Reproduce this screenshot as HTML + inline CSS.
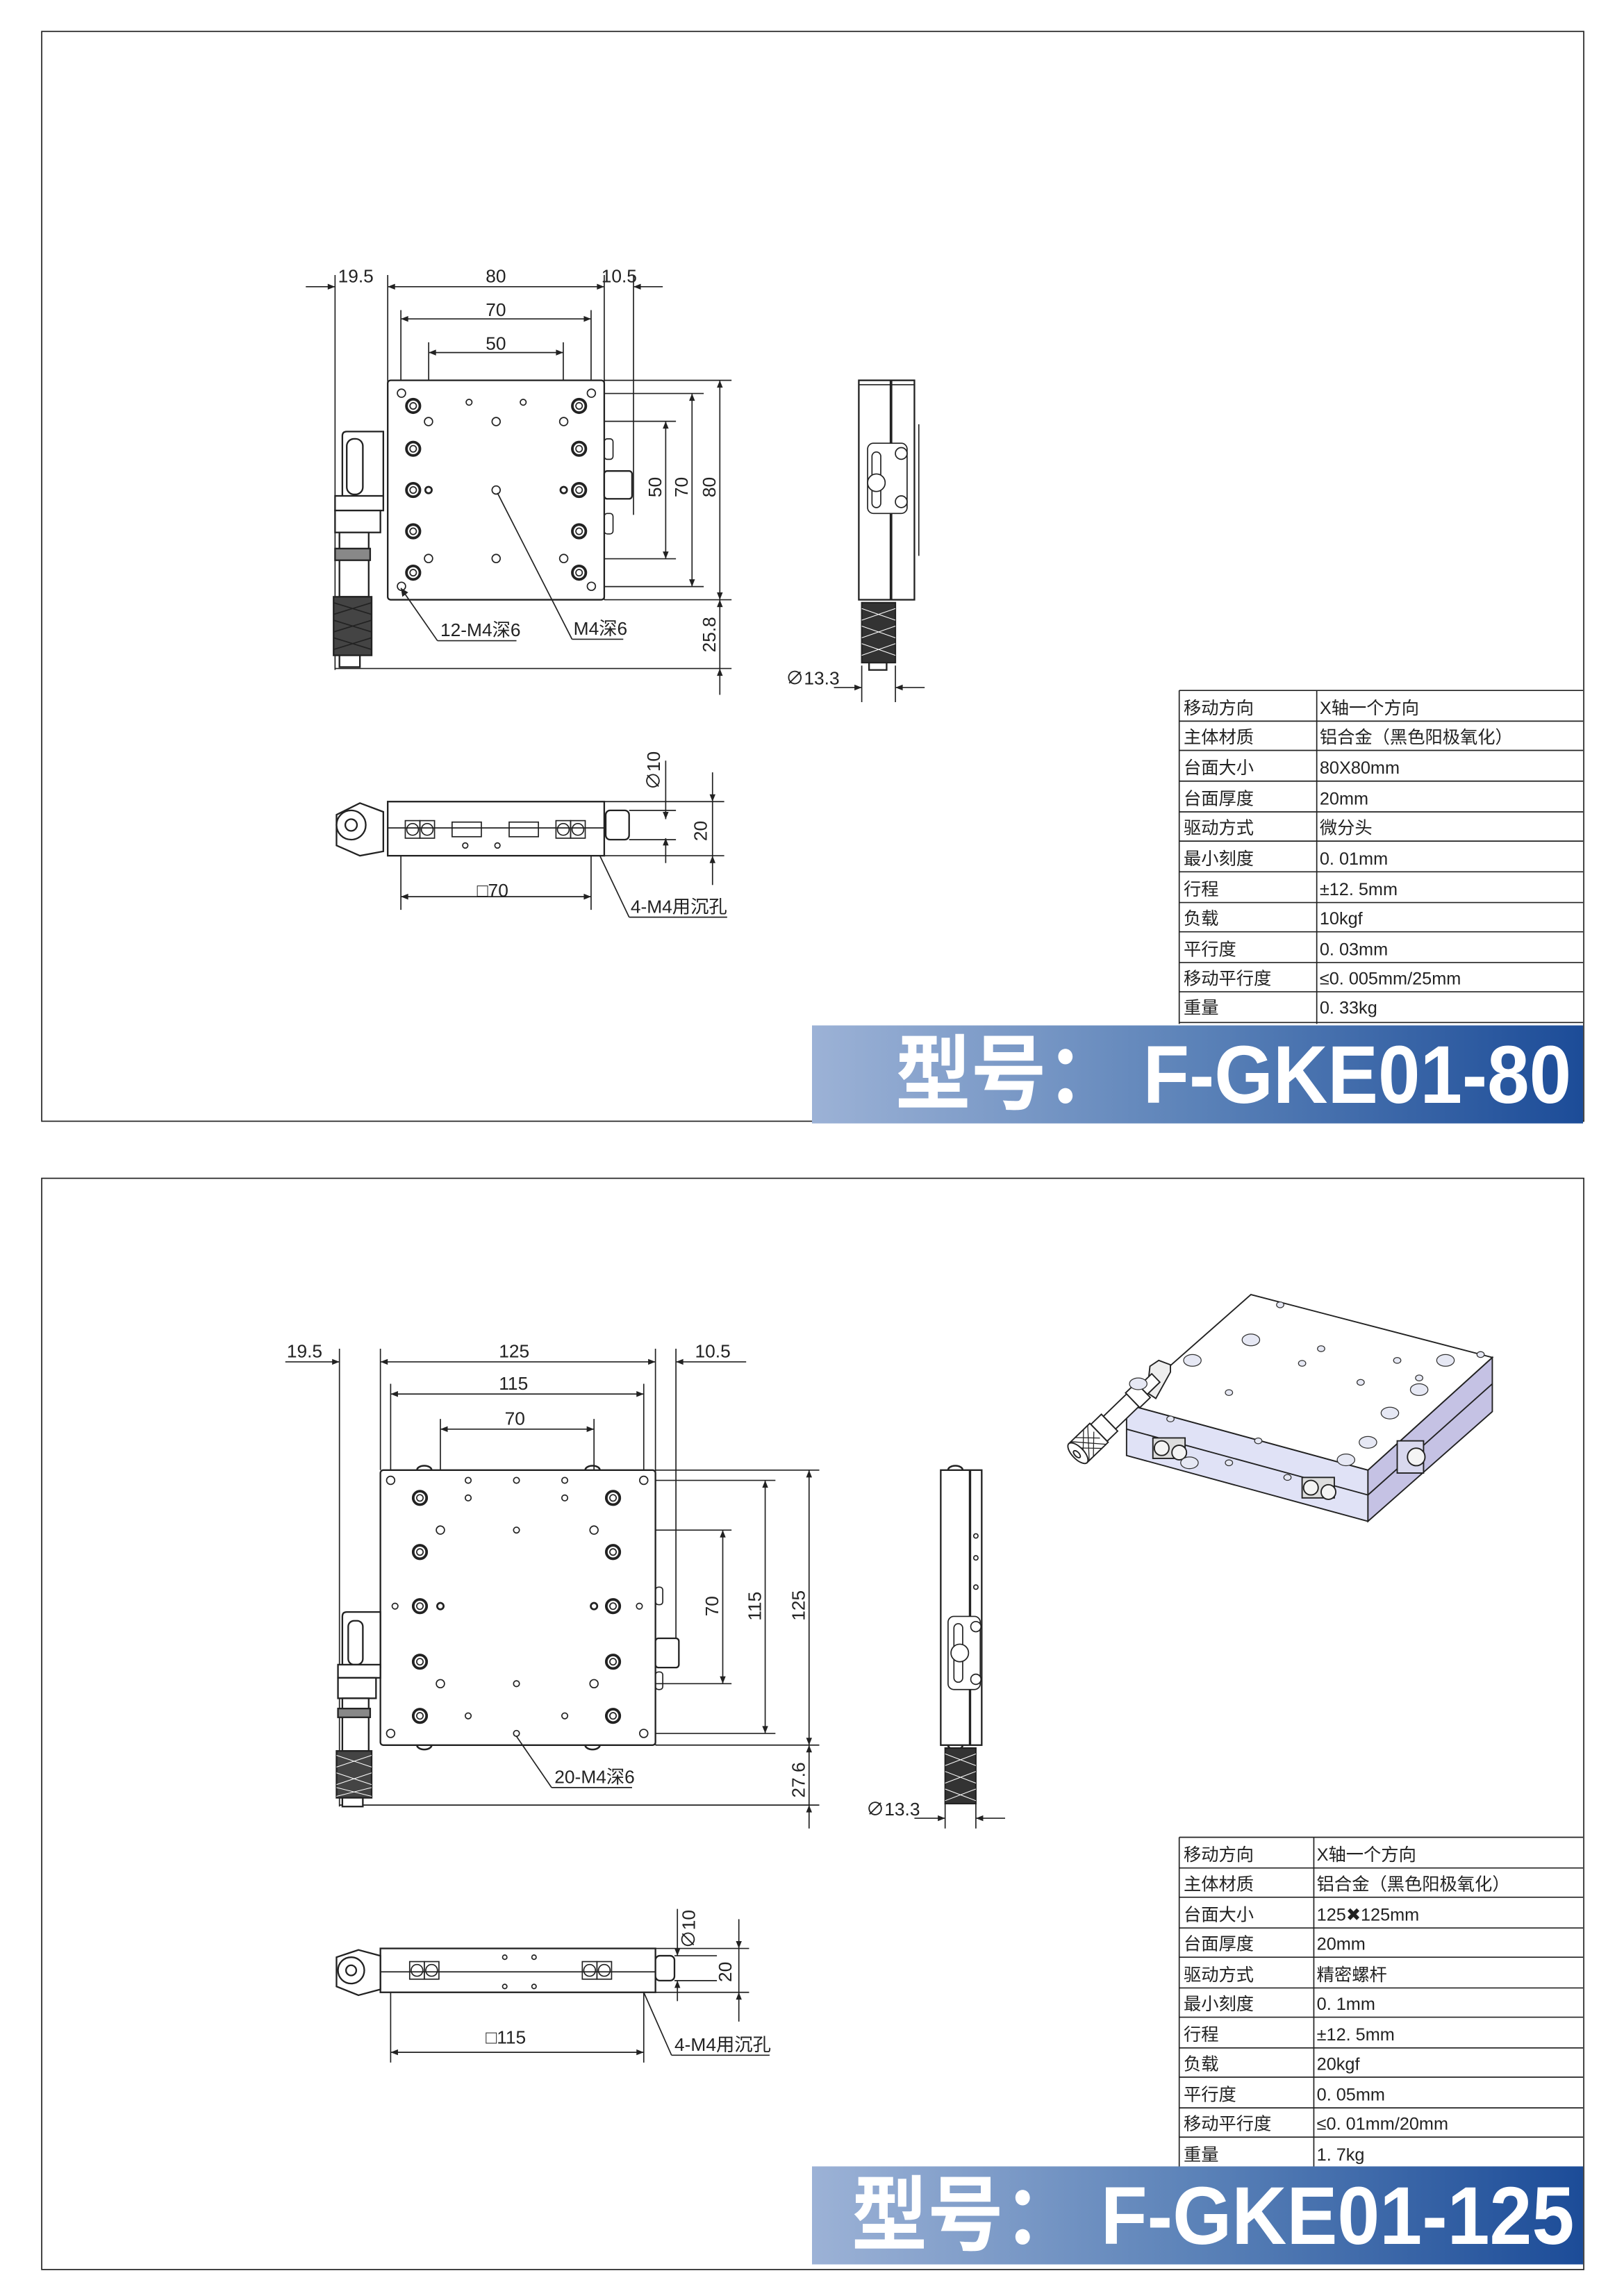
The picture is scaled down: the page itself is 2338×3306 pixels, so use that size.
<!DOCTYPE html>
<html><head><meta charset="utf-8">
<style>
html,body{margin:0;padding:0;background:#fff;}
svg{display:block;}
text{font-family:"Liberation Sans","Noto Sans CJK SC",sans-serif;fill:#222;}
.d{font-size:12.5px;}
.t{font-size:12px;}
.ln{stroke:#222;stroke-width:0.8;fill:none;}
.th{stroke:#222;stroke-width:1.3;fill:none;}
.pl{stroke:#222;stroke-width:1.1;fill:#fff;}
.big{font-family:"Liberation Sans","Noto Sans CJK SC",sans-serif;font-weight:bold;font-size:56px;fill:#fff;}
</style></head><body>
<svg width="2338" height="3306" viewBox="0 0 1110 1569.6" xmlns="http://www.w3.org/2000/svg">
<defs>
<marker id="a" viewBox="0 0 10 10" refX="10" refY="5" markerWidth="9" markerHeight="5" orient="auto-start-reverse" markerUnits="userSpaceOnUse"><path d="M0,1 L10,5 L0,9 z" fill="#222"/></marker>
<linearGradient id="g" x1="0" y1="0" x2="1" y2="0"><stop offset="0" stop-color="#9cb2d6"/><stop offset="0.5" stop-color="#5b82b8"/><stop offset="1" stop-color="#1c4c98"/></linearGradient>
<g id="cb"><circle r="4.6" fill="#fff" stroke="#222" stroke-width="1.8"/><circle r="2.2" fill="none" stroke="#222" stroke-width="0.8"/></g>
<g id="sh"><circle r="2.8" fill="#fff" stroke="#222" stroke-width="0.8"/></g>
</defs>
<rect width="1110" height="1569.6" fill="#fff"/>
<rect x="28.5" y="21.5" width="1054" height="745" class="ln" stroke-width="1"/>
<rect x="28.5" y="805.5" width="1054" height="746" class="ln" stroke-width="1"/>

<!-- ================= TOP PANEL ================= -->
<g class="ln">
<line x1="229" y1="188" x2="229" y2="458"/>
<line x1="265" y1="188" x2="265" y2="262"/>
<line x1="413" y1="188" x2="413" y2="410"/>
<line x1="433" y1="188" x2="433" y2="352"/>
<line x1="209" y1="196" x2="229" y2="196" marker-end="url(#a)"/>
<line x1="265" y1="196" x2="413" y2="196" marker-start="url(#a)" marker-end="url(#a)"/>
<line x1="433" y1="196" x2="453" y2="196" marker-start="url(#a)"/>
<line x1="274" y1="212" x2="274" y2="268"/><line x1="404" y1="212" x2="404" y2="268"/>
<line x1="274" y1="218" x2="404" y2="218" marker-start="url(#a)" marker-end="url(#a)"/>
<line x1="293" y1="234" x2="293" y2="288"/><line x1="385" y1="234" x2="385" y2="288"/>
<line x1="293" y1="241" x2="385" y2="241" marker-start="url(#a)" marker-end="url(#a)"/>
<line x1="413" y1="260" x2="500" y2="260"/>
<line x1="404" y1="269" x2="481" y2="269"/>
<line x1="385" y1="288" x2="462" y2="288"/>
<line x1="385" y1="382" x2="462" y2="382"/>
<line x1="404" y1="401" x2="481" y2="401"/>
<line x1="413" y1="410" x2="500" y2="410"/>
<line x1="229" y1="457" x2="500" y2="457"/>
<line x1="455" y1="288" x2="455" y2="382" marker-start="url(#a)" marker-end="url(#a)"/>
<line x1="473" y1="269" x2="473" y2="401" marker-start="url(#a)" marker-end="url(#a)"/>
<line x1="492" y1="260" x2="492" y2="410" marker-start="url(#a)" marker-end="url(#a)"/>
<line x1="492" y1="410" x2="492" y2="457" marker-start="url(#a)"/>
<line x1="492" y1="475" x2="492" y2="457" marker-end="url(#a)"/>
</g>
<text class="d" x="231" y="193">19.5</text>
<text class="d" x="332" y="193">80</text>
<text class="d" x="411" y="193">10.5</text>
<text class="d" x="332" y="216">70</text>
<text class="d" x="332" y="239">50</text>
<text class="d" transform="translate(452,340) rotate(-90)">50</text>
<text class="d" transform="translate(470,340) rotate(-90)">70</text>
<text class="d" transform="translate(489,340) rotate(-90)">80</text>
<text class="d" transform="translate(489,446) rotate(-90)">25.8</text>

<rect x="265" y="260" width="148" height="150" rx="2" class="pl"/>
<use href="#sh" x="274.4" y="268.8"/><use href="#sh" x="404.2" y="268.8"/>
<use href="#sh" x="274.4" y="400.8"/><use href="#sh" x="404.2" y="400.8"/>
<use href="#sh" x="292.9" y="288.2"/><use href="#sh" x="385.3" y="288.2"/>
<use href="#sh" x="292.9" y="381.8"/><use href="#sh" x="385.3" y="381.8"/>
<use href="#sh" x="339.1" y="288.2"/><use href="#sh" x="339.1" y="335"/><use href="#sh" x="339.1" y="381.8"/>
<circle cx="320.6" cy="275" r="2" class="ln" fill="#fff"/><circle cx="357.6" cy="275" r="2" class="ln" fill="#fff"/>
<circle cx="292.9" cy="335" r="2.2" class="th"/><circle cx="385.3" cy="335" r="2.2" class="th"/>
<use href="#cb" x="282.4" y="277.5"/><use href="#cb" x="282.4" y="306.8"/><use href="#cb" x="282.4" y="335"/><use href="#cb" x="282.4" y="363.2"/><use href="#cb" x="282.4" y="391.5"/>
<use href="#cb" x="395.8" y="277.5"/><use href="#cb" x="395.8" y="306.8"/><use href="#cb" x="395.8" y="335"/><use href="#cb" x="395.8" y="363.2"/><use href="#cb" x="395.8" y="391.5"/>
<rect x="413" y="300" width="6" height="14" rx="2" class="ln" fill="#fff"/>
<rect x="413" y="322" width="19" height="19" rx="2" class="pl"/>
<rect x="413" y="351" width="6" height="14" rx="2" class="ln" fill="#fff"/>
<g class="pl">
<path d="M262,295 L237,295 Q234,295 234,298 L234,340 L262,340 Z"/>
<rect x="237" y="300" width="11" height="38" rx="5"/>
<rect x="229" y="339" width="33" height="10"/>
<rect x="229" y="349" width="31" height="15"/>
<rect x="232" y="364" width="20" height="44"/>
<rect x="229" y="375" width="24" height="8" fill="#888"/>
<rect x="228" y="408" width="26" height="40" fill="#444"/>
<rect x="232" y="448" width="14" height="8"/>
</g>
<g class="ln" stroke="#fff" stroke-width="0.6">
<path d="M228,412 L254,420 M228,420 L254,412 M228,424 L254,432 M228,432 L254,424 M228,436 L254,444 M228,444 L254,436"/>
</g>
<g class="ln">
<line x1="274" y1="402" x2="299" y2="438"/><line x1="299" y1="438" x2="353" y2="438"/>
<line x1="340" y1="337" x2="391" y2="437"/><line x1="391" y1="437" x2="426" y2="437"/>
</g>
<path d="M274,402 l1,6 l4,-3 z" fill="#222"/>
<text class="d" x="301" y="435">12-M4深6</text>
<text class="d" x="392" y="434">M4深6</text>

<rect x="587" y="260" width="38" height="150" class="pl"/>
<g class="ln">
<line x1="587" y1="263" x2="625" y2="263"/>
<line x1="609" y1="260" x2="609" y2="410" stroke-width="1.8"/>
<line x1="628" y1="290" x2="628" y2="380"/>
<rect x="593" y="303" width="27" height="48" rx="4" fill="#fff"/>
<rect x="596" y="309" width="6" height="38" rx="3"/>
<circle cx="599" cy="330" r="6" fill="#fff"/>
<circle cx="616" cy="310" r="4" fill="#fff"/><circle cx="616" cy="343" r="4" fill="#fff"/>
</g>
<rect x="589" y="412" width="23" height="41" fill="#333" stroke="#222"/>
<path d="M589,416 L612,424 M589,424 L612,416 M589,428 L612,436 M589,436 L612,428 M589,440 L612,448 M589,448 L612,440" stroke="#fff" stroke-width="0.5"/>
<rect x="594" y="453" width="12" height="5" class="pl"/>
<g class="ln">
<line x1="589" y1="455" x2="589" y2="480"/><line x1="612" y1="455" x2="612" y2="480"/>
<line x1="570" y1="470" x2="589" y2="470" marker-end="url(#a)"/>
<line x1="632" y1="470" x2="612" y2="470" marker-end="url(#a)"/>
</g>
<text class="d" x="537" y="468">∅13.3</text>

<g class="pl">
<rect x="265" y="548" width="148" height="37"/>
<path d="M230,557 L246,549 L262,555 L262,582 L246,585 L230,578 Z"/>
<circle cx="240" cy="564" r="10"/><circle cx="240" cy="564" r="4"/>
<rect x="414" y="554" width="16" height="20" rx="3"/>
</g>
<g class="ln">
<line x1="265" y1="566" x2="413" y2="566"/>
<rect x="277" y="561" width="10" height="12"/><rect x="287" y="561" width="10" height="12"/>
<rect x="380" y="561" width="10" height="12"/><rect x="390" y="561" width="10" height="12"/>
<circle cx="282" cy="567" r="4"/><circle cx="292" cy="567" r="4"/><circle cx="385" cy="567" r="4"/><circle cx="395" cy="567" r="4"/>
<rect x="309" y="562" width="20" height="10"/><rect x="348" y="562" width="20" height="10"/>
<circle cx="318" cy="578" r="1.8"/><circle cx="340" cy="578" r="1.8"/>
<line x1="274" y1="585" x2="274" y2="622"/><line x1="404" y1="585" x2="404" y2="622"/>
<line x1="274" y1="613" x2="404" y2="613" marker-start="url(#a)" marker-end="url(#a)"/>
<line x1="410" y1="585" x2="430" y2="627"/><line x1="430" y1="627" x2="497" y2="627"/>
<line x1="455" y1="520" x2="455" y2="560" marker-end="url(#a)"/>
<line x1="455" y1="590" x2="455" y2="573" marker-end="url(#a)"/>
<line x1="430" y1="554" x2="462" y2="554"/><line x1="430" y1="574" x2="462" y2="574"/>
<line x1="413" y1="548" x2="495" y2="548"/><line x1="413" y1="585" x2="495" y2="585"/>
<line x1="487" y1="528" x2="487" y2="548" marker-end="url(#a)"/>
<line x1="487" y1="548" x2="487" y2="585"/>
<line x1="487" y1="605" x2="487" y2="585" marker-end="url(#a)"/>
</g>
<text class="d" x="326" y="613">□70</text>
<text class="d" x="431" y="624">4-M4用沉孔</text>
<text class="d" transform="translate(451,540) rotate(-90)">∅10</text>
<text class="d" transform="translate(483,575) rotate(-90)">20</text>

<g class="ln" stroke-width="0.9">
<line x1="806" y1="472" x2="1082" y2="472"/>
<line x1="806" y1="472" x2="806" y2="700"/>
<line x1="900" y1="472" x2="900" y2="700"/>
<line x1="806" y1="493" x2="1082" y2="493"/><line x1="806" y1="513" x2="1082" y2="513"/>
<line x1="806" y1="534" x2="1082" y2="534"/><line x1="806" y1="555" x2="1082" y2="555"/>
<line x1="806" y1="575" x2="1082" y2="575"/><line x1="806" y1="596" x2="1082" y2="596"/>
<line x1="806" y1="617" x2="1082" y2="617"/><line x1="806" y1="637" x2="1082" y2="637"/>
<line x1="806" y1="658" x2="1082" y2="658"/><line x1="806" y1="678" x2="1082" y2="678"/>
<line x1="806" y1="699" x2="1082" y2="699"/>
</g>
<g class="t">
<text x="809" y="488">移动方向</text><text x="902" y="488">X轴一个方向</text>
<text x="809" y="508">主体材质</text><text x="902" y="508">铝合金（黑色阳极氧化）</text>
<text x="809" y="529">台面大小</text><text x="902" y="529">80X80mm</text>
<text x="809" y="550">台面厚度</text><text x="902" y="550">20mm</text>
<text x="809" y="570">驱动方式</text><text x="902" y="570">微分头</text>
<text x="809" y="591">最小刻度</text><text x="902" y="591">0. 01mm</text>
<text x="809" y="612">行程</text><text x="902" y="612">±12. 5mm</text>
<text x="809" y="632">负载</text><text x="902" y="632">10kgf</text>
<text x="809" y="653">平行度</text><text x="902" y="653">0. 03mm</text>
<text x="809" y="673">移动平行度</text><text x="902" y="673">≤0. 005mm/25mm</text>
<text x="809" y="693">重量</text><text x="902" y="693">0. 33kg</text>
</g>
<rect x="555" y="701" width="527" height="67" fill="url(#g)"/>
<text class="big" x="612" y="754" textLength="462" lengthAdjust="spacingAndGlyphs">型号： F-GKE01-80</text>

<!-- ================= BOTTOM PANEL ================= -->
<g class="ln">
<line x1="232" y1="922" x2="232" y2="1235"/>
<line x1="260" y1="922" x2="260" y2="1005"/>
<line x1="448" y1="922" x2="448" y2="1193"/>
<line x1="462" y1="922" x2="462" y2="1120"/>
<line x1="195" y1="931" x2="232" y2="931" marker-end="url(#a)"/>
<line x1="260" y1="931" x2="448" y2="931" marker-start="url(#a)" marker-end="url(#a)"/>
<line x1="462" y1="931" x2="510" y2="931" marker-start="url(#a)"/>
<line x1="267" y1="946" x2="267" y2="1012"/><line x1="440" y1="946" x2="440" y2="1012"/>
<line x1="267" y1="953" x2="440" y2="953" marker-start="url(#a)" marker-end="url(#a)"/>
<line x1="301" y1="970" x2="301" y2="1046"/><line x1="406" y1="970" x2="406" y2="1046"/>
<line x1="301" y1="977" x2="406" y2="977" marker-start="url(#a)" marker-end="url(#a)"/>
<line x1="448" y1="1005" x2="560" y2="1005"/>
<line x1="440" y1="1012" x2="530" y2="1012"/>
<line x1="406" y1="1046" x2="500" y2="1046"/>
<line x1="406" y1="1151" x2="500" y2="1151"/>
<line x1="440" y1="1185" x2="530" y2="1185"/>
<line x1="448" y1="1193" x2="560" y2="1193"/>
<line x1="232" y1="1234" x2="560" y2="1234"/>
<line x1="494" y1="1046" x2="494" y2="1151" marker-start="url(#a)" marker-end="url(#a)"/>
<line x1="523" y1="1012" x2="523" y2="1185" marker-start="url(#a)" marker-end="url(#a)"/>
<line x1="553" y1="1005" x2="553" y2="1193" marker-start="url(#a)" marker-end="url(#a)"/>
<line x1="553" y1="1193" x2="553" y2="1234" marker-start="url(#a)"/>
<line x1="553" y1="1250" x2="553" y2="1234" marker-end="url(#a)"/>
</g>
<text class="d" x="196" y="928">19.5</text>
<text class="d" x="341" y="928">125</text>
<text class="d" x="475" y="928">10.5</text>
<text class="d" x="341" y="950">115</text>
<text class="d" x="345" y="974">70</text>
<text class="d" transform="translate(491,1105) rotate(-90)">70</text>
<text class="d" transform="translate(520,1108) rotate(-90)">115</text>
<text class="d" transform="translate(550,1108) rotate(-90)">125</text>
<text class="d" transform="translate(550,1229) rotate(-90)">27.6</text>

<rect x="260" y="1005" width="188" height="188" rx="2" class="pl"/>
<g class="ln">
<path d="M285,1005 a5,3 0 0 1 10,0 M400,1005 a5,3 0 0 1 10,0 M285,1193 a5,3 0 0 0 10,0 M400,1193 a5,3 0 0 0 10,0" stroke-width="1.2"/>
</g>
<use href="#sh" x="267" y="1012"/><use href="#sh" x="440" y="1012"/>
<use href="#sh" x="267" y="1185"/><use href="#sh" x="440" y="1185"/>
<use href="#sh" x="301" y="1046"/><use href="#sh" x="406" y="1046"/>
<use href="#sh" x="301" y="1151"/><use href="#sh" x="406" y="1151"/>
<circle cx="320" cy="1012" r="2" class="ln"/><circle cx="386" cy="1012" r="2" class="ln"/>
<circle cx="353" cy="1012" r="2" class="ln"/><circle cx="353" cy="1046" r="2" class="ln"/>
<circle cx="320" cy="1024" r="2" class="ln"/><circle cx="386" cy="1024" r="2" class="ln"/>
<circle cx="353" cy="1151" r="2" class="ln"/><circle cx="353" cy="1185" r="2" class="ln"/>
<circle cx="320" cy="1173" r="2" class="ln"/><circle cx="386" cy="1173" r="2" class="ln"/>
<circle cx="270" cy="1098" r="2" class="ln"/><circle cx="437" cy="1098" r="2" class="ln"/>
<circle cx="301" cy="1098" r="2.2" class="th"/><circle cx="406" cy="1098" r="2.2" class="th"/>
<use href="#cb" x="287" y="1024"/><use href="#cb" x="287" y="1061"/><use href="#cb" x="287" y="1098"/><use href="#cb" x="287" y="1136"/><use href="#cb" x="287" y="1173"/>
<use href="#cb" x="419" y="1024"/><use href="#cb" x="419" y="1061"/><use href="#cb" x="419" y="1098"/><use href="#cb" x="419" y="1136"/><use href="#cb" x="419" y="1173"/>
<rect x="448" y="1085" width="5" height="12" rx="2" class="ln" fill="#fff"/>
<rect x="448" y="1120" width="16" height="20" rx="2" class="pl"/>
<rect x="448" y="1143" width="5" height="12" rx="2" class="ln" fill="#fff"/>
<g class="pl">
<path d="M260,1102 L237,1102 Q234,1102 234,1105 L234,1140 L260,1140 Z"/>
<rect x="238" y="1108" width="10" height="30" rx="4"/>
<rect x="231" y="1138" width="29" height="9"/>
<rect x="231" y="1147" width="26" height="14"/>
<rect x="234" y="1161" width="18" height="36"/>
<rect x="231" y="1168" width="22" height="6" fill="#888"/>
<rect x="230" y="1197" width="24" height="32" fill="#444"/>
<rect x="234" y="1229" width="14" height="6"/>
</g>
<path d="M230,1200 L254,1208 M230,1208 L254,1200 M230,1212 L254,1220 M230,1220 L254,1212 M230,1222 L254,1228 M230,1228 L254,1222" stroke="#fff" stroke-width="0.5"/>
<g class="ln">
<line x1="353" y1="1187" x2="377" y2="1222"/><line x1="377" y1="1222" x2="432" y2="1222"/>
</g>
<text class="d" x="379" y="1219">20-M4深6</text>

<rect x="643" y="1005" width="28" height="188" class="pl"/>
<g class="ln">
<line x1="663" y1="1005" x2="663" y2="1193" stroke-width="1.6"/>
<path d="M648,1005 a5,3 0 0 1 10,0 M648,1193 a5,3 0 0 0 10,0" stroke-width="1.2"/>
<circle cx="667" cy="1050" r="1.5"/><circle cx="667" cy="1065" r="1.5"/><circle cx="667" cy="1085" r="1.5"/>
<rect x="648" y="1105" width="22" height="50" rx="4" fill="#fff"/>
<rect x="652" y="1110" width="6" height="40" rx="3"/>
<circle cx="656" cy="1130" r="6" fill="#fff"/>
<circle cx="667" cy="1112" r="3.5" fill="#fff"/><circle cx="667" cy="1148" r="3.5" fill="#fff"/>
</g>
<rect x="646" y="1195" width="21" height="38" fill="#333" stroke="#222"/>
<path d="M646,1199 L667,1207 M646,1207 L667,1199 M646,1211 L667,1219 M646,1219 L667,1211 M646,1223 L667,1231 M646,1231 L667,1223" stroke="#fff" stroke-width="0.5"/>
<g class="ln">
<line x1="646" y1="1233" x2="646" y2="1250"/><line x1="667" y1="1233" x2="667" y2="1250"/>
<line x1="625" y1="1243" x2="646" y2="1243" marker-end="url(#a)"/>
<line x1="687" y1="1243" x2="667" y2="1243" marker-end="url(#a)"/>
</g>
<text class="d" x="592" y="1241">∅13.3</text>

<g class="pl">
<rect x="260" y="1332" width="188" height="30"/>
<path d="M230,1338 L245,1333 L260,1337 L260,1360 L245,1364 L230,1358 Z"/>
<circle cx="240" cy="1347" r="9"/><circle cx="240" cy="1347" r="3.5"/>
<rect x="448" y="1337" width="13" height="17" rx="3"/>
</g>
<g class="ln">
<line x1="260" y1="1348" x2="448" y2="1348"/>
<rect x="280" y="1341" width="10" height="12"/><rect x="290" y="1341" width="10" height="12"/>
<rect x="398" y="1341" width="10" height="12"/><rect x="408" y="1341" width="10" height="12"/>
<circle cx="285" cy="1347" r="4"/><circle cx="295" cy="1347" r="4"/><circle cx="403" cy="1347" r="4"/><circle cx="413" cy="1347" r="4"/>
<circle cx="345" cy="1338" r="1.5"/><circle cx="365" cy="1338" r="1.5"/><circle cx="345" cy="1358" r="1.5"/><circle cx="365" cy="1358" r="1.5"/>
<line x1="267" y1="1362" x2="267" y2="1410"/><line x1="440" y1="1362" x2="440" y2="1410"/>
<line x1="267" y1="1403" x2="440" y2="1403" marker-start="url(#a)" marker-end="url(#a)"/>
<line x1="440" y1="1362" x2="459" y2="1405"/><line x1="459" y1="1405" x2="526" y2="1405"/>
<line x1="463" y1="1305" x2="463" y2="1337" marker-end="url(#a)"/>
<line x1="463" y1="1368" x2="463" y2="1354" marker-end="url(#a)"/>
<line x1="461" y1="1337" x2="490" y2="1337"/><line x1="461" y1="1354" x2="490" y2="1354"/>
<line x1="448" y1="1332" x2="512" y2="1332"/><line x1="448" y1="1362" x2="512" y2="1362"/>
<line x1="505" y1="1312" x2="505" y2="1332" marker-end="url(#a)"/>
<line x1="505" y1="1332" x2="505" y2="1362"/>
<line x1="505" y1="1382" x2="505" y2="1362" marker-end="url(#a)"/>
</g>
<text class="d" x="332" y="1397">□115</text>
<text class="d" x="461" y="1402">4-M4用沉孔</text>
<text class="d" transform="translate(475,1332) rotate(-90)">∅10</text>
<text class="d" transform="translate(500,1355) rotate(-90)">20</text>

<!-- isometric view -->
<g stroke="#222" stroke-width="0.9">
<polygon points="770,960 935,1005 935,1040 770,995" fill="#e0e2f6"/>
<polygon points="935,1005 1020,928 1020,965 935,1040" fill="#c5c2e4"/>
<polygon points="855,885 1020,928 935,1005 770,960" fill="#fff"/>
<line x1="770" y1="977" x2="935" y2="1022"/><line x1="935" y1="1022" x2="1020" y2="946"/>
<rect x="788" y="983" width="22" height="14" fill="#ddd"/>
<rect x="890" y="1010" width="22" height="14" fill="#ddd"/>
<circle cx="794" cy="990" r="5" fill="#f4f4f4"/><circle cx="806" cy="993" r="5" fill="#f4f4f4"/>
<circle cx="896" cy="1017" r="5" fill="#f4f4f4"/><circle cx="908" cy="1020" r="5" fill="#f4f4f4"/>
<rect x="955" y="985" width="18" height="22" fill="#d8d8ee"/>
<circle cx="968" cy="996" r="6" fill="#f4f4f4"/>
<!-- bracket -->
<polygon points="786,934 792,930 800,933 800,938 790,956 784,952" fill="#eee"/>
</g>
<g transform="translate(790,942) rotate(136)" stroke="#222" stroke-width="0.9">
<rect x="0" y="-4" width="12" height="8" fill="#fff"/>
<rect x="12" y="-7" width="10" height="14" fill="#fff"/>
<rect x="22" y="-6" width="22" height="12" fill="#fff"/>
<rect x="44" y="-8" width="10" height="16" fill="#fff"/>
<rect x="54" y="-9" width="20" height="18" fill="#fff"/>
<path d="M56,-9 L72,9 M60,-9 L74,5 M56,-3 L68,9 M72,-9 L56,9 M68,-9 L56,3 M74,-5 L60,9" stroke-width="0.6"/>
<ellipse cx="74" cy="0" rx="4" ry="9" fill="#fff"/>
<ellipse cx="75" cy="0" rx="1.5" ry="3" fill="#fff"/>
</g>
<g fill="#e6e8f4" stroke="#333" stroke-width="0.6">
<ellipse cx="855" cy="916" rx="6" ry="4"/><ellipse cx="815" cy="930" rx="6" ry="4"/><ellipse cx="778" cy="946" rx="6" ry="4"/>
<ellipse cx="813" cy="1000" rx="6" ry="4"/>
<ellipse cx="988" cy="930" rx="6" ry="4"/><ellipse cx="970" cy="950" rx="6" ry="4"/><ellipse cx="950" cy="966" rx="6" ry="4"/>
<ellipse cx="935" cy="986" rx="6" ry="4"/><ellipse cx="920" cy="998" rx="6" ry="4"/>
<ellipse cx="875" cy="892" rx="2.5" ry="2"/><ellipse cx="890" cy="932" rx="2.5" ry="2"/><ellipse cx="840" cy="952" rx="2.5" ry="2"/>
<ellipse cx="970" cy="942" rx="2.5" ry="2"/><ellipse cx="840" cy="1000" rx="2.5" ry="2"/><ellipse cx="1012" cy="926" rx="2.5" ry="2"/>
<ellipse cx="955" cy="930" rx="2.5" ry="2"/><ellipse cx="930" cy="945" rx="2.5" ry="2"/><ellipse cx="903" cy="922" rx="2.5" ry="2"/>
<ellipse cx="860" cy="985" rx="2.5" ry="2"/><ellipse cx="880" cy="1010" rx="2.5" ry="2"/><ellipse cx="800" cy="970" rx="2.5" ry="2"/>
</g>

<g class="ln" stroke-width="0.9">
<line x1="806" y1="1256" x2="1082" y2="1256"/>
<line x1="806" y1="1256" x2="806" y2="1482"/>
<line x1="898" y1="1256" x2="898" y2="1482"/>
<line x1="806" y1="1277" x2="1082" y2="1277"/><line x1="806" y1="1297" x2="1082" y2="1297"/>
<line x1="806" y1="1318" x2="1082" y2="1318"/><line x1="806" y1="1338" x2="1082" y2="1338"/>
<line x1="806" y1="1359" x2="1082" y2="1359"/><line x1="806" y1="1379" x2="1082" y2="1379"/>
<line x1="806" y1="1400" x2="1082" y2="1400"/><line x1="806" y1="1420" x2="1082" y2="1420"/>
<line x1="806" y1="1441" x2="1082" y2="1441"/><line x1="806" y1="1461" x2="1082" y2="1461"/>
</g>
<g class="t">
<text x="809" y="1272">移动方向</text><text x="900" y="1272">X轴一个方向</text>
<text x="809" y="1292">主体材质</text><text x="900" y="1292">铝合金（黑色阳极氧化）</text>
<text x="809" y="1313">台面大小</text><text x="900" y="1313">125✖125mm</text>
<text x="809" y="1333">台面厚度</text><text x="900" y="1333">20mm</text>
<text x="809" y="1354">驱动方式</text><text x="900" y="1354">精密螺杆</text>
<text x="809" y="1374">最小刻度</text><text x="900" y="1374">0. 1mm</text>
<text x="809" y="1395">行程</text><text x="900" y="1395">±12. 5mm</text>
<text x="809" y="1415">负载</text><text x="900" y="1415">20kgf</text>
<text x="809" y="1436">平行度</text><text x="900" y="1436">0. 05mm</text>
<text x="809" y="1456">移动平行度</text><text x="900" y="1456">≤0. 01mm/20mm</text>
<text x="809" y="1477">重量</text><text x="900" y="1477">1. 7kg</text>
</g>
<rect x="555" y="1481" width="527" height="67" fill="url(#g)"/>
<text class="big" x="582" y="1534" textLength="494" lengthAdjust="spacingAndGlyphs">型号： F-GKE01-125</text>
</svg>
</body></html>
